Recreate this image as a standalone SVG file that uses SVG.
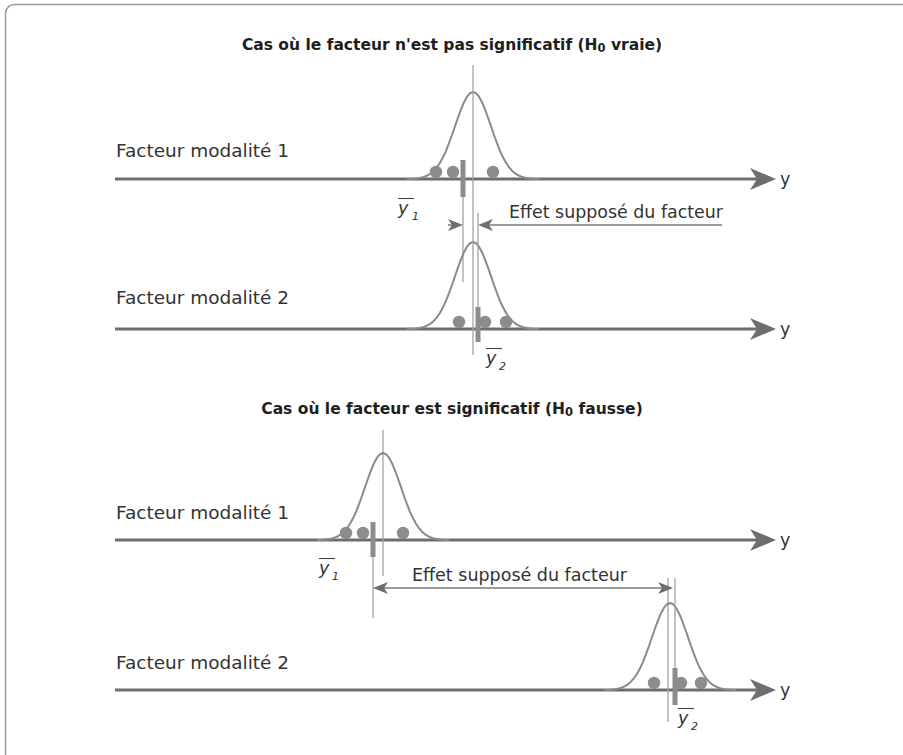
<svg xmlns="http://www.w3.org/2000/svg" xmlns:xlink="http://www.w3.org/1999/xlink" width="903" height="755" viewBox="0 0 903 755">
<style>
.frame{fill:none;stroke:#9c9c9c;stroke-width:1.5}
.axis{stroke:#6e6e6e;stroke-width:3;fill:none}
.head{fill:#6e6e6e}
.curve{stroke:#8a8a8a;stroke-width:2;fill:none;stroke-linejoin:round}
.dot{fill:#8c8c8c}
.bar{stroke:#8c8c8c;stroke-width:5}
.thin{stroke:#a3a3a3;stroke-width:1.3}
.eff{stroke:#7a7a7a;stroke-width:1.5}
.ehead{fill:#6e6e6e}
.ovl{stroke:#444;stroke-width:1.1}
text{font-family:"DejaVu Sans","Liberation Sans",sans-serif;fill:#333}
.lbl{font-size:17.5px}
.title{font-size:15.5px;font-weight:bold;fill:#1e1e1e}
.sub0{font-size:11.5px}
.ybar{font-size:17.5px;font-style:italic}
.ysub{font-size:11px;font-style:italic}
</style>
<defs>
<path id="gauss" class="curve" d="M-66,0 L-60,-0.3 L-57,-0.6 L-54,-1 L-51,-1.6 L-48,-2.5 L-45,-3.8 L-42,-5.7 L-39,-8.3 L-36,-11.8 L-33,-16.2 L-30,-21.7 L-27,-28.2 L-24,-35.8 L-21,-44 L-18,-52.8 L-15,-61.5 L-12,-69.7 L-9,-76.8 L-6,-82.3 L-3,-85.8 L0,-87 L3,-85.8 L6,-82.3 L9,-76.8 L12,-69.7 L15,-61.5 L18,-52.8 L21,-44 L24,-35.8 L27,-28.2 L30,-21.7 L33,-16.2 L36,-11.8 L39,-8.3 L42,-5.7 L45,-3.8 L48,-2.5 L51,-1.6 L54,-1 L57,-0.6 L60,-0.3 L66,0"/>
<path id="axhead" class="head" d="M0,0 L-26,-11 L-19,0 L-26,11 Z"/>
<path id="sh" class="ehead" d="M0,0 L-15,-6 L-11,0 L-15,6 Z"/>
</defs>

<rect class="frame" x="5.5" y="4.5" width="920" height="800" rx="9"/>

<g id="title-h0-vraie">
<text class="title" x="452" y="50" text-anchor="middle">Cas où le facteur n'est pas significatif (H<tspan class="sub0" dy="2">0</tspan><tspan dy="-2"> vraie)</tspan></text>
</g>

<g id="cas1-modalite1">
<text class="lbl" x="116" y="157" textLength="173" lengthAdjust="spacingAndGlyphs">Facteur modalité 1</text>
<line class="axis" x1="115" y1="179" x2="758" y2="179"/>
<use xlink:href="#axhead" transform="translate(776,179)"/>
<text class="lbl" x="780" y="185">y</text>
<use xlink:href="#gauss" transform="translate(473,179)"/>
<circle class="dot" cx="436" cy="172" r="6.2"/>
<circle class="dot" cx="453" cy="172" r="6.2"/>
<circle class="dot" cx="493" cy="172" r="6.2"/>
<line class="thin" x1="463" y1="196" x2="463" y2="282"/>
<line class="bar" x1="463" y1="160" x2="463" y2="197"/>
<line class="ovl" x1="398" y1="198.5" x2="414" y2="198.5"/>
<text class="ybar" x="398" y="214">y</text>
<text class="ysub" x="412" y="220">1</text>
</g>

<g id="cas1-modalite2">
<text class="lbl" x="116" y="304" textLength="173" lengthAdjust="spacingAndGlyphs">Facteur modalité 2</text>
<line class="axis" x1="115" y1="329" x2="758" y2="329"/>
<use xlink:href="#axhead" transform="translate(776,329)"/>
<text class="lbl" x="780" y="335">y</text>
<use xlink:href="#gauss" transform="translate(473,329)"/>
<circle class="dot" cx="459" cy="322" r="6.2"/>
<circle class="dot" cx="485" cy="322" r="6.2"/>
<circle class="dot" cx="506" cy="322" r="6.2"/>
<line class="thin" x1="478" y1="213" x2="478" y2="308"/>
<line class="bar" x1="478" y1="307" x2="478" y2="342"/>
<line class="ovl" x1="486" y1="348.5" x2="502" y2="348.5"/>
<text class="ybar" x="486" y="364">y</text>
<text class="ysub" x="499" y="370">2</text>
</g>

<g id="cas1-moyenne">
<line class="thin" x1="473" y1="65" x2="473" y2="355"/>
</g>

<g id="title-h0-fausse">
<text class="title" x="452" y="414" text-anchor="middle">Cas où le facteur est significatif (H<tspan class="sub0" dy="2">0</tspan><tspan dy="-2"> fausse)</tspan></text>
</g>

<g id="cas2-modalite1">
<text class="lbl" x="116" y="519" textLength="173" lengthAdjust="spacingAndGlyphs">Facteur modalité 1</text>
<line class="axis" x1="115" y1="540" x2="758" y2="540"/>
<use xlink:href="#axhead" transform="translate(776,540)"/>
<text class="lbl" x="780" y="546">y</text>
<line class="thin" x1="383" y1="430" x2="383" y2="576"/>
<use xlink:href="#gauss" transform="translate(383,540)"/>
<circle class="dot" cx="346" cy="533" r="6.2"/>
<circle class="dot" cx="363" cy="533" r="6.2"/>
<circle class="dot" cx="403" cy="533" r="6.2"/>
<line class="thin" x1="373" y1="556" x2="373" y2="618"/>
<line class="bar" x1="373" y1="522" x2="373" y2="557"/>
<line class="ovl" x1="319" y1="558.5" x2="335" y2="558.5"/>
<text class="ybar" x="319" y="574">y</text>
<text class="ysub" x="332" y="580">1</text>
</g>

<g id="cas2-modalite2">
<text class="lbl" x="116" y="669" textLength="173" lengthAdjust="spacingAndGlyphs">Facteur modalité 2</text>
<line class="axis" x1="115" y1="690" x2="758" y2="690"/>
<use xlink:href="#axhead" transform="translate(776,690)"/>
<text class="lbl" x="780" y="696">y</text>
<line class="thin" x1="668" y1="578" x2="668" y2="722"/>
<use xlink:href="#gauss" transform="translate(670,690)"/>
<circle class="dot" cx="654" cy="683" r="6.2"/>
<circle class="dot" cx="681" cy="683" r="6.2"/>
<circle class="dot" cx="701" cy="683" r="6.2"/>
<line class="thin" x1="675" y1="578" x2="675" y2="669"/>
<line class="bar" x1="675" y1="668" x2="675" y2="705"/>
<line class="ovl" x1="678" y1="708.5" x2="694" y2="708.5"/>
<text class="ybar" x="678" y="724">y</text>
<text class="ysub" x="691" y="730">2</text>
</g>

<g id="connectors">
<line class="eff" x1="448" y1="225" x2="455" y2="225"/>
<use xlink:href="#sh" transform="translate(463,225)"/>
<line class="eff" x1="486" y1="225" x2="722" y2="225"/>
<use xlink:href="#sh" transform="translate(478,225) rotate(180)"/>
<text class="lbl" x="509" y="218" textLength="214" lengthAdjust="spacingAndGlyphs">Effet supposé du facteur</text>
<line class="eff" x1="381" y1="588" x2="665" y2="588"/>
<use xlink:href="#sh" transform="translate(373,588) rotate(180)"/>
<use xlink:href="#sh" transform="translate(673,588)"/>
<text class="lbl" x="412" y="581" textLength="215" lengthAdjust="spacingAndGlyphs">Effet supposé du facteur</text>
</g>
</svg>
